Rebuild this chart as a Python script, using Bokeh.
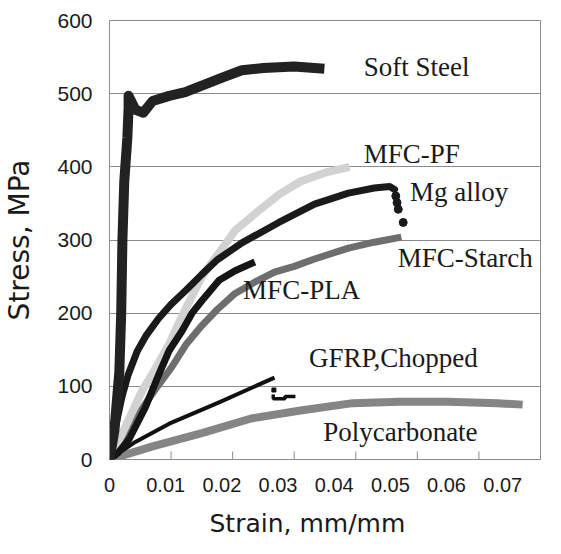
from bokeh.plotting import figure
from bokeh.models import Range1d, LinearAxis, FixedTicker, ColumnDataSource, Title
from bokeh.core.properties import value
from bokeh.embed import file_html
from bokeh.resources import INLINE

# ---- data (strain mm/mm, stress MPa) ----
steel_strain = [0, 0.0008, 0.0016, 0.0019, 0.0021, 0.0024, 0.0029, 0.0031, 0.0031, 0.0042, 0.0055,
                0.0070, 0.0097, 0.0123, 0.0150, 0.0183, 0.0215, 0.0250, 0.0300, 0.0349]
steel_stress = [0, 40, 120, 200, 300, 380, 440, 480, 497, 478, 474,
                490, 497, 502, 511, 522, 532, 535, 537, 534]

pf_strain = [0, 0.0026, 0.0053, 0.0075, 0.0097, 0.0123, 0.0150, 0.0180, 0.0204, 0.0245, 0.0275, 0.0310, 0.0350, 0.0390]
pf_stress = [0, 45, 94, 125, 158, 205, 250, 285, 313, 342, 362, 380, 392, 400]

mg_strain = [0, 0.0010, 0.0020, 0.0030, 0.0045, 0.0060, 0.0080, 0.0100, 0.0125, 0.0150, 0.0175,
             0.0215, 0.0275, 0.0333, 0.0388, 0.0430, 0.0455, 0.0463]
mg_stress = [0, 45, 85, 115, 148, 170, 193, 212, 232, 253, 273,
             296, 324, 349, 364, 371, 373, 369]
mg_tail_strain = [0.0465, 0.0467, 0.0469, 0.0477]
mg_tail_stress = [360, 351, 342, 324]

starch_strain = [0, 0.0020, 0.0037, 0.0055, 0.0078, 0.0100, 0.0125, 0.0150, 0.0175, 0.0204, 0.0235,
                 0.0268, 0.0300, 0.0333, 0.0388, 0.0430, 0.0474]
starch_stress = [0, 25, 49, 72, 100, 125, 158, 183, 205, 227, 242,
                 256, 264, 274, 289, 297, 304]

pla_strain = [0, 0.0015, 0.0032, 0.0058, 0.0081, 0.0097, 0.0118, 0.0134, 0.0150, 0.0178, 0.0204, 0.0236]
pla_stress = [0, 10, 28, 71, 118, 149, 176, 200, 217, 245, 258, 270]

gfrp_strain = [0, 0.0042, 0.0097, 0.0178, 0.0268]
gfrp_stress = [0, 24, 49, 78, 112]
gfrp_tail_strain = [0.0266, 0.0266, 0.0285, 0.0285, 0.0302]
gfrp_tail_stress = [89, 83, 83, 86, 86]
gfrp_dot_strain = [0.0267]
gfrp_dot_stress = [95]

pc_strain = [0, 0.0070, 0.0150, 0.0230, 0.0310, 0.0395, 0.0470, 0.0550, 0.0630, 0.0671]
pc_stress = [0, 18, 36, 56, 67, 77, 79, 79, 77, 75]

label_text = ["Soft Steel", "MFC-PF", "Mg alloy", "MFC-Starch", "MFC-PLA", "GFRP,Chopped", "Polycarbonate"]
label_strain = [0.0413, 0.0413, 0.0488, 0.0468, 0.0217, 0.0324, 0.0347]
label_stress = [536, 417, 365, 276, 231, 139, 37]

x_ticks = [0, 0.01, 0.02, 0.03, 0.04, 0.05, 0.06, 0.07]
x_tick_labels = ["0", "0.01", "0.02", "0.03", "0.04", "0.05", "0.06", "0.07"]
y_ticks = [0, 100, 200, 300, 400, 500, 600]
x_title = "Strain, mm/mm"
y_title = "Stress, MPa"

GRID = "#8c8c8c"
INK = "#1a1a1a"

p = figure(width=561, height=554, x_range=Range1d(0, 0.07), y_range=Range1d(0, 600),
           output_backend="svg", toolbar_location=None, x_axis_location=None,
           min_border_left=107, min_border_right=21, min_border_top=20, min_border_bottom=95)
p.outline_line_color = GRID
p.background_fill_color = "white"
p.xgrid.visible = False
p.ygrid.ticker = FixedTicker(ticks=y_ticks)
p.ygrid.grid_line_color = GRID

# inward x tick marks (drawn at the tick values)
p.ray(x=x_ticks, y=[0] * len(x_ticks), length=8, length_units="screen",
      angle=90, angle_units="deg", line_color=GRID, line_width=1)

# x label axis (labels spaced slightly tighter, as in the original figure)
p.extra_x_ranges = {"lbl": Range1d(0, 0.07673)}
lx = LinearAxis(x_range_name="lbl", ticker=FixedTicker(ticks=x_ticks),
                major_label_overrides=dict(zip(x_ticks, x_tick_labels)),
                axis_line_color=None, major_tick_line_color=None, minor_tick_line_color=None,
                major_tick_in=0, major_tick_out=0, major_label_standoff=18,
                major_label_text_font="Liberation Sans", major_label_text_font_size="20px",
                major_label_text_color=INK)
p.add_layout(lx, "below")

# x title, a little left of centre as in the original
xt = Title(text=x_title, align="left", offset=100, standoff=24,
           text_font="DejaVu Sans", text_font_size="25px", text_font_style="normal",
           text_color=INK)
p.add_layout(xt, "below")

ya = p.yaxis[0]
ya.ticker = FixedTicker(ticks=y_ticks)
ya.major_tick_in = 0
ya.major_tick_out = 0
ya.minor_tick_line_color = None
ya.axis_line_color = GRID
ya.major_label_standoff = 17
ya.major_label_text_font = "Liberation Sans"
ya.major_label_text_font_size = "21px"
ya.major_label_text_color = INK
ya.axis_label = y_title
ya.axis_label_standoff = 18
ya.axis_label_text_font = "DejaVu Sans"
ya.axis_label_text_font_size = "28px"
ya.axis_label_text_font_style = "normal"
ya.axis_label_text_color = INK

# curves
p.line(pc_strain, pc_stress, line_width=8, line_color="#858585", line_join="round")
p.line(gfrp_strain, gfrp_stress, line_width=4, line_color="#111111", line_join="round")
p.line(gfrp_tail_strain, gfrp_tail_stress, line_width=3.5, line_color="#111111")
p.scatter(gfrp_dot_strain, gfrp_dot_stress, marker="square", size=4, color="#111111")
p.line(starch_strain, starch_stress, line_width=7, line_color="#6e6e6e", line_join="round")
p.line(pf_strain, pf_stress, line_width=8, line_color="#d2d2d2", line_join="round")
p.line(pla_strain, pla_stress, line_width=7, line_color="#151515", line_join="round")
p.line(mg_strain, mg_stress, line_width=7, line_color=INK, line_join="round", line_cap="round")
p.scatter(mg_tail_strain, mg_tail_stress, marker="circle", size=8, color=INK)
p.line(steel_strain, steel_stress, line_width=10, line_color="#222222", line_join="round")

src = ColumnDataSource(dict(x=label_strain, y=label_stress, t=label_text))
p.text(x="x", y="y", text="t", source=src, text_font=value("Liberation Serif"),
       text_font_size="27px", text_align="left", text_baseline="alphabetic", text_color=INK)

open("out.html", "w").write(file_html(p, INLINE))
